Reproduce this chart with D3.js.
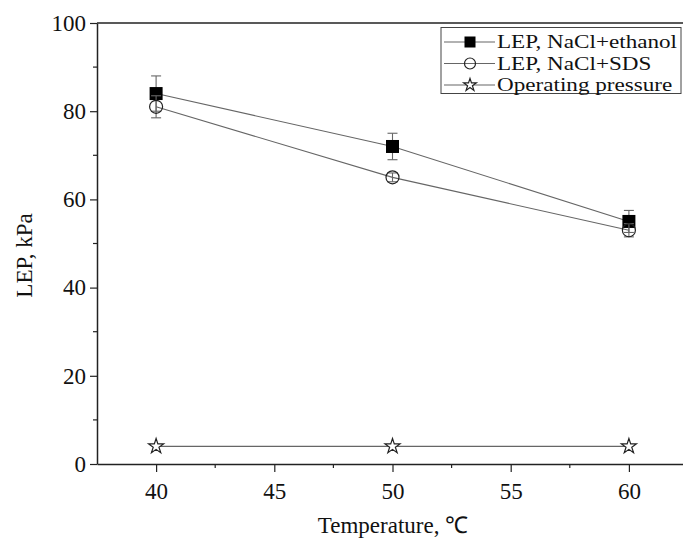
<!DOCTYPE html>
<html>
<head>
<meta charset="utf-8">
<script src="https://cdn.jsdelivr.net/npm/d3@7"></script>
<style>
  body { margin: 0; background: #fff; }
  svg text { font-family: "Liberation Serif", "Times New Roman", serif !important; }
</style>
</head>
<body>
<svg id="chart" width="683" height="541"></svg>
<script>
// data
const temps = [40, 50, 60];
const ethanolLEP = [84, 72, 55];
const ethanolErr = [4, 3, 2.5];
const sdsLEP = [81, 65, 53];
const sdsErr = [2.5, 1, 1.5];
const operating = [4, 4, 4];
const seriesNames = ["LEP, NaCl+ethanol", "LEP, NaCl+SDS", "Operating pressure"];
const xTicks = [40, 45, 50, 55, 60];
const yTicks = [0, 20, 40, 60, 80, 100];

const svg = d3.select("#chart");
const plotLeft = 97, plotRight = 688, plotTop = 23, plotBottom = 464;

const x = d3.scaleLinear().domain([37.5, 62.5]).range([plotLeft, plotRight]);
const y = d3.scaleLinear().domain([0, 100]).range([plotBottom, plotTop]);

const lineColor = "#666";
const axisColor = "#222";

// frame: top line
svg.append("line")
    .attr("x1", plotLeft).attr("x2", plotRight)
    .attr("y1", plotTop).attr("y2", plotTop)
    .attr("stroke", axisColor).attr("stroke-width", 1.5);

// minor ticks
const yMinor = d3.range(10, 100, 20);
svg.selectAll(".ymin").data(yMinor).join("line")
    .attr("x1", plotLeft - 4).attr("x2", plotLeft)
    .attr("y1", d => y(d)).attr("y2", d => y(d))
    .attr("stroke", axisColor).attr("stroke-width", 1.2);
const xMinor = [42.5, 47.5, 52.5, 57.5];
svg.selectAll(".xmin").data(xMinor).join("line")
    .attr("x1", d => x(d)).attr("x2", d => x(d))
    .attr("y1", plotBottom).attr("y2", plotBottom + 4)
    .attr("stroke", axisColor).attr("stroke-width", 1.2);

const yAxis = svg.append("g")
    .attr("transform", `translate(${plotLeft},0)`)
    .call(d3.axisLeft(y).tickValues(yTicks).tickSize(7).tickPadding(4).tickSizeOuter(0));
const xAxis = svg.append("g")
    .attr("transform", `translate(0,${plotBottom})`)
    .call(d3.axisBottom(x).tickValues(xTicks).tickSize(8).tickPadding(11).tickSizeOuter(0));

[xAxis, yAxis].forEach(g => {
    g.attr("font-family", null);
    g.select(".domain").attr("stroke", axisColor).attr("stroke-width", 1.5);
    g.selectAll(".tick line").attr("stroke", axisColor).attr("stroke-width", 1.2);
    g.selectAll("text").attr("font-size", 23).attr("fill", "#111");
});

// axis titles
svg.append("text")
    .attr("transform", `translate(27,${(plotTop + plotBottom) / 2 + 12}) rotate(-90)`)
    .attr("text-anchor", "middle").attr("dominant-baseline", "middle")
    .attr("font-size", 23).attr("fill", "#111")
    .text("LEP, kPa");
svg.append("text")
    .attr("x", 393).attr("y", 533)
    .attr("text-anchor", "middle")
    .attr("font-size", 23).attr("fill", "#111")
    .text("Temperature, \u2103");

// series
const series = [
    { vals: ethanolLEP, err: ethanolErr, type: "square" },
    { vals: sdsLEP, err: sdsErr, type: "circle" },
    { vals: operating, err: null, type: "star" }
];

const line = d3.line().x(d => x(d[0])).y(d => y(d[1]));
const starPath = d3.symbol(d3.symbolStar).size(70)();
const starSmall = d3.symbol(d3.symbolStar).size(50)();

function drawMarker(g, type, small) {
    const h = small ? 5.5 : 6.5;
    if (type === "square") {
        g.append("rect").attr("x", -h).attr("y", -h).attr("width", 2 * h).attr("height", 2 * h)
            .attr("fill", "#000");
    } else if (type === "circle") {
        g.append("circle").attr("r", h)
            .attr("fill", "none").attr("stroke", "#222").attr("stroke-width", 1.2);
    } else {
        g.append("path").attr("d", small ? starSmall : starPath)
            .attr("fill", "#fff").attr("stroke", "#222").attr("stroke-width", 1.2);
    }
}

series.forEach(s => {
    const pts = temps.map((t, i) => [t, s.vals[i]]);
    svg.append("path").datum(pts)
        .attr("d", line).attr("fill", "none")
        .attr("stroke", lineColor).attr("stroke-width", 1.1);
    if (s.err) {
        const eb = svg.append("g");
        pts.forEach((p, i) => {
            const cx = x(p[0]), y1 = y(p[1] + s.err[i]), y2 = y(p[1] - s.err[i]);
            eb.append("line").attr("x1", cx).attr("x2", cx).attr("y1", y1).attr("y2", y2)
                .attr("stroke", lineColor).attr("stroke-width", 1.1);
            [y1, y2].forEach(yy => eb.append("line")
                .attr("x1", cx - 5).attr("x2", cx + 5).attr("y1", yy).attr("y2", yy)
                .attr("stroke", lineColor).attr("stroke-width", 1.1));
        });
    }
    pts.forEach(p => {
        const g = svg.append("g").attr("transform", `translate(${x(p[0])},${y(p[1])})`);
        drawMarker(g, s.type, false);
    });
});

// legend
const lg = svg.append("g");
lg.append("rect")
    .attr("x", 441).attr("y", 27.5).attr("width", 240).attr("height", 66)
    .attr("fill", "#fff").attr("stroke", "#444").attr("stroke-width", 1);
series.forEach((s, i) => {
    const cy = 42 + i * 21.5;
    lg.append("line").attr("x1", 444).attr("x2", 495).attr("y1", cy).attr("y2", cy)
        .attr("stroke", lineColor).attr("stroke-width", 1.1);
    const g = lg.append("g").attr("transform", `translate(470,${cy})`);
    drawMarker(g, s.type, true);
    lg.append("text")
        .attr("transform", `translate(497,${cy}) scale(1.25,1)`)
        .attr("dominant-baseline", "central")
        .attr("font-size", 18.5).attr("fill", "#111")
        .text(seriesNames[i]);
});
</script>
</body>
</html>
